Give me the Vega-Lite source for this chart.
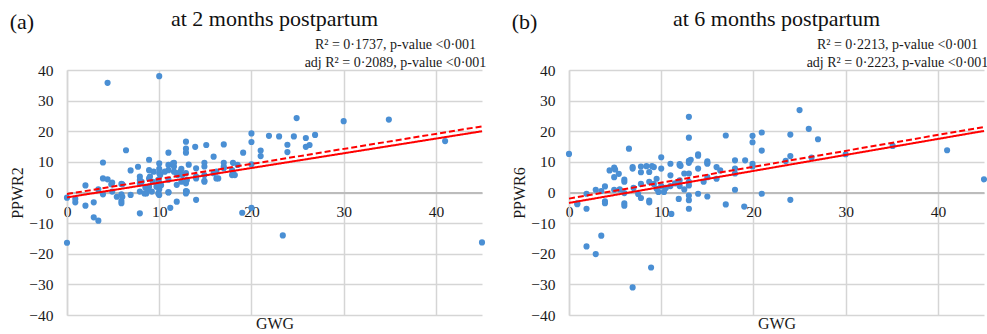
{
  "$schema": "https://vega.github.io/schema/vega-lite/v6.json",
  "padding": {"left": 9, "top": 8, "right": 0, "bottom": 0},
  "config": {
    "font": "Times New Roman, Liberation Serif, serif",
    "view": {"stroke": null},
    "axis": {
      "labelFont": "Times New Roman, Liberation Serif, serif", "titleFont": "Times New Roman, Liberation Serif, serif",
      "labelFontSize": 15.5, "titleFontSize": 16, "titleFontWeight": "normal",
      "labelColor": "#1a1a1a", "titleColor": "#1a1a1a", "labelOverlap": false,
      "gridColor": "#d5d5d5", "gridWidth": 1.5, "ticks": false, "tickSize": 0
    },
    "title": {"font": "Times New Roman, Liberation Serif, serif", "fontWeight": "normal", "fontSize": 22, "color": "#111111"}
  },
  "datasets": {
    "a": [
      {"GWG":4.4,"PPWR":35.8},{"GWG":10,"PPWR":38},{"GWG":6.4,"PPWR":13.8},{"GWG":3.9,"PPWR":9.8},{"GWG":8.9,"PPWR":10.7},{"GWG":11,"PPWR":13},{"GWG":12.9,"PPWR":16.6},{"GWG":12.9,"PPWR":14.3},{"GWG":12.9,"PPWR":13},{"GWG":13.9,"PPWR":14.9},{"GWG":15.1,"PPWR":15.5},{"GWG":15.9,"PPWR":11.7},{"GWG":17,"PPWR":15.7},{"GWG":19.1,"PPWR":13},{"GWG":20,"PPWR":19.3},{"GWG":20,"PPWR":16.5},{"GWG":21,"PPWR":13.7},{"GWG":21,"PPWR":11.9},{"GWG":21.9,"PPWR":18.5},{"GWG":23,"PPWR":18.3},{"GWG":23.9,"PPWR":15.6},{"GWG":23.9,"PPWR":13.2},{"GWG":24.6,"PPWR":18.3},{"GWG":24.9,"PPWR":24.3},{"GWG":25.9,"PPWR":17.8},{"GWG":25.9,"PPWR":14.9},{"GWG":26.3,"PPWR":15.5},{"GWG":26.9,"PPWR":18.8},{"GWG":30,"PPWR":23.3},{"GWG":34.9,"PPWR":23.8},{"GWG":41,"PPWR":16.8},{"GWG":23.4,"PPWR":-14},{"GWG":45,"PPWR":-16.3},{"GWG":0,"PPWR":-16.4},
      {"GWG":7.7,"PPWR":8.4},{"GWG":10,"PPWR":7.7},{"GWG":11,"PPWR":9},{"GWG":11.6,"PPWR":9.7},{"GWG":11.6,"PPWR":8.5},{"GWG":12.4,"PPWR":7.7},{"GWG":13.2,"PPWR":9.1},{"GWG":14,"PPWR":7.9},{"GWG":14.9,"PPWR":9.7},{"GWG":14.9,"PPWR":8.5},{"GWG":17,"PPWR":9.7},{"GWG":17,"PPWR":8.5},{"GWG":18,"PPWR":9.7},{"GWG":18.5,"PPWR":9},{"GWG":20,"PPWR":9.2},{"GWG":10,"PPWR":9.5},{"GWG":11.5,"PPWR":9.5},
      {"GWG":6.9,"PPWR":7.2},{"GWG":7.9,"PPWR":5.2},{"GWG":7.9,"PPWR":4.1},{"GWG":7.9,"PPWR":3},{"GWG":8.9,"PPWR":7.3},{"GWG":8.9,"PPWR":4.6},{"GWG":8.9,"PPWR":1.9},{"GWG":9.4,"PPWR":6.8},{"GWG":10,"PPWR":6.3},{"GWG":10,"PPWR":3.2},{"GWG":10,"PPWR":1},{"GWG":11,"PPWR":7.3},{"GWG":11,"PPWR":4.2},{"GWG":11.9,"PPWR":6.3},{"GWG":11.9,"PPWR":2.5},{"GWG":12.4,"PPWR":3.5},{"GWG":12.9,"PPWR":6.3},{"GWG":12.9,"PPWR":3},{"GWG":14,"PPWR":4.6},{"GWG":14.9,"PPWR":3.8},{"GWG":15.9,"PPWR":6.3},{"GWG":16.4,"PPWR":4.6},{"GWG":17,"PPWR":7.9},{"GWG":17.9,"PPWR":7.3},{"GWG":17.9,"PPWR":5.7},{"GWG":10.6,"PPWR":6.8},{"GWG":11.6,"PPWR":6.8},{"GWG":12.3,"PPWR":6.8},{"GWG":12.5,"PPWR":5.7},{"GWG":10.1,"PPWR":5.7},{"GWG":9.9,"PPWR":4.1},{"GWG":10.2,"PPWR":2.4},{"GWG":12,"PPWR":5.7},{"GWG":14,"PPWR":5.2},{"GWG":14.9,"PPWR":5.7},{"GWG":16.2,"PPWR":6.8},{"GWG":18,"PPWR":6.3},{"GWG":18.2,"PPWR":5.7},{"GWG":13,"PPWR":4.1},{"GWG":16.2,"PPWR":4.6},{"GWG":14.9,"PPWR":3.5},{"GWG":8.1,"PPWR":3.5},{"GWG":8.5,"PPWR":1.6},{"GWG":9,"PPWR":5.2},{"GWG":9.3,"PPWR":3.5},{"GWG":9.7,"PPWR":1.9},
      {"GWG":0,"PPWR":-1.7},{"GWG":0.9,"PPWR":-2.1},{"GWG":0.9,"PPWR":-3.2},{"GWG":2,"PPWR":2.3},{"GWG":2,"PPWR":-4.3},{"GWG":2.9,"PPWR":-3.2},{"GWG":2.9,"PPWR":-8.1},{"GWG":3.4,"PPWR":-9.2},{"GWG":3.4,"PPWR":1},{"GWG":3.9,"PPWR":4.6},{"GWG":3.9,"PPWR":-0.6},{"GWG":4.4,"PPWR":4.3},{"GWG":4.9,"PPWR":3.2},{"GWG":4.9,"PPWR":0.3},{"GWG":5.4,"PPWR":-1.4},{"GWG":5.9,"PPWR":2.8},{"GWG":5.9,"PPWR":-0.6},{"GWG":5.9,"PPWR":-2.8},{"GWG":5.9,"PPWR":-3.5},{"GWG":6.9,"PPWR":-0.8},{"GWG":7.9,"PPWR":0.3},{"GWG":7.9,"PPWR":-6.8},{"GWG":8.6,"PPWR":-0.3},{"GWG":9.2,"PPWR":0.3},{"GWG":10,"PPWR":-0.8},{"GWG":11,"PPWR":0},{"GWG":11.2,"PPWR":-5},{"GWG":11.9,"PPWR":-3},{"GWG":12.9,"PPWR":-0.3},{"GWG":12.9,"PPWR":0.5},{"GWG":14,"PPWR":-2.4},{"GWG":19,"PPWR":-6.6},{"GWG":20,"PPWR":-5},{"GWG":4.8,"PPWR":2.7},{"GWG":6,"PPWR":2.7},{"GWG":6,"PPWR":-1.4},{"GWG":8.8,"PPWR":0.8},{"GWG":8.4,"PPWR":-0.3},{"GWG":9.9,"PPWR":-0.3},{"GWG":11,"PPWR":0.1},{"GWG":13,"PPWR":0.3}
    ],
    "b": [
      {"GWG":0,"PPWR":12.6},{"GWG":6.5,"PPWR":14.3},{"GWG":13,"PPWR":24.7},{"GWG":13,"PPWR":17.9},{"GWG":14,"PPWR":12.5},{"GWG":14,"PPWR":12},{"GWG":10,"PPWR":11.5},{"GWG":11,"PPWR":9.4},{"GWG":12,"PPWR":9.3},{"GWG":12.1,"PPWR":8.7},{"GWG":13,"PPWR":10.3},{"GWG":13.2,"PPWR":10.7},{"GWG":15,"PPWR":10.2},{"GWG":15,"PPWR":9.7},{"GWG":17,"PPWR":18.6},{"GWG":18,"PPWR":10.5},{"GWG":19.1,"PPWR":10.5},{"GWG":19.9,"PPWR":18.5},{"GWG":19.9,"PPWR":16.4},{"GWG":20.9,"PPWR":19.6},{"GWG":20.9,"PPWR":13.7},{"GWG":19.9,"PPWR":9.4},{"GWG":23.5,"PPWR":10.3},{"GWG":24,"PPWR":18.9},{"GWG":24,"PPWR":11.9},{"GWG":25,"PPWR":26.9},{"GWG":26,"PPWR":20.8},{"GWG":26.3,"PPWR":11.4},{"GWG":27,"PPWR":17.4},{"GWG":30,"PPWR":12.5},{"GWG":35.1,"PPWR":15.2},{"GWG":41,"PPWR":13.8},{"GWG":9,"PPWR":8.6},{"GWG":8.4,"PPWR":8.6},{"GWG":6.9,"PPWR":8.3},{"GWG":5,"PPWR":7.5},
      {"GWG":0.9,"PPWR":-3.5},{"GWG":0.9,"PPWR":-3.8},{"GWG":1.9,"PPWR":-0.4},{"GWG":1.9,"PPWR":-5.3},{"GWG":1.9,"PPWR":-17.6},{"GWG":2.9,"PPWR":0.9},{"GWG":2.9,"PPWR":-20.1},{"GWG":3.5,"PPWR":-14.1},{"GWG":3.5,"PPWR":0.5},{"GWG":3.9,"PPWR":2},{"GWG":3.9,"PPWR":-2.9},{"GWG":3.9,"PPWR":-3.5},{"GWG":4.4,"PPWR":7.2},{"GWG":4.9,"PPWR":8.1},{"GWG":4.9,"PPWR":5},{"GWG":4.9,"PPWR":0.9},{"GWG":5.4,"PPWR":6.1},{"GWG":6,"PPWR":4.2},{"GWG":6,"PPWR":3.5},{"GWG":6,"PPWR":-0.2},{"GWG":6,"PPWR":-3.5},{"GWG":6,"PPWR":-4.3},{"GWG":6.9,"PPWR":7.8},{"GWG":6.9,"PPWR":-31},{"GWG":7.8,"PPWR":8.5},{"GWG":7.8,"PPWR":6.6},{"GWG":7.8,"PPWR":2.8},{"GWG":7.8,"PPWR":-1.8},{"GWG":8.7,"PPWR":6.7},{"GWG":8.7,"PPWR":3.5},{"GWG":8.7,"PPWR":-3.2},{"GWG":8.7,"PPWR":-2.6},{"GWG":8.9,"PPWR":-24.5},{"GWG":9.2,"PPWR":8.3},{"GWG":9.2,"PPWR":2.8},{"GWG":9.5,"PPWR":1.2},{"GWG":9.7,"PPWR":0.2},{"GWG":10,"PPWR":7.8},{"GWG":10,"PPWR":2.1},{"GWG":10.3,"PPWR":0.2},{"GWG":11,"PPWR":5.6},{"GWG":11,"PPWR":2.1},{"GWG":11.1,"PPWR":-7},{"GWG":12,"PPWR":8.9},{"GWG":11.9,"PPWR":-2.1},{"GWG":12,"PPWR":4},{"GWG":12,"PPWR":2.1},{"GWG":12.5,"PPWR":6.2},{"GWG":13,"PPWR":9.7},{"GWG":13,"PPWR":6.2},{"GWG":13,"PPWR":3.5},{"GWG":13,"PPWR":2.3},{"GWG":13,"PPWR":-1},{"GWG":13,"PPWR":-2.5},{"GWG":13,"PPWR":-5.3},{"GWG":14,"PPWR":7.8},{"GWG":14,"PPWR":-0.4},{"GWG":15,"PPWR":9.4},{"GWG":15,"PPWR":5},{"GWG":14.6,"PPWR":3.5},{"GWG":15,"PPWR":-1.3},{"GWG":16,"PPWR":8.3},{"GWG":16,"PPWR":4.5},{"GWG":16.4,"PPWR":7.2},{"GWG":17,"PPWR":-3.9},{"GWG":18,"PPWR":7.8},{"GWG":18,"PPWR":6.2},{"GWG":18,"PPWR":0.9},{"GWG":19,"PPWR":-4.6},{"GWG":19.9,"PPWR":8.5},{"GWG":20.9,"PPWR":-0.4},{"GWG":24,"PPWR":-2.4},{"GWG":45,"PPWR":4.3},
      {"GWG":10.5,"PPWR":1.5},{"GWG":11.5,"PPWR":3},{"GWG":12.5,"PPWR":1},{"GWG":9.5,"PPWR":4.5},{"GWG":7,"PPWR":1.5},{"GWG":5.5,"PPWR":1},{"GWG":7.5,"PPWR":-0.5}
    ],
    "la": [
      {"GWG":0,"PPWR":-1.6,"fit":"R²"},{"GWG":45,"PPWR":20,"fit":"R²"},
      {"GWG":0,"PPWR":-0.5,"fit":"adj R²"},{"GWG":45,"PPWR":21.6,"fit":"adj R²"}
    ],
    "lb": [
      {"GWG":0,"PPWR":-3.4,"fit":"R²"},{"GWG":45,"PPWR":20.1,"fit":"R²"},
      {"GWG":0,"PPWR":-2.0,"fit":"adj R²"},{"GWG":45,"PPWR":21.4,"fit":"adj R²"}
    ]
  },
  "spacing": 25,
  "hconcat": [
    {
      "title": {"text": "(a)", "anchor": "start", "frame": "bounds", "fontSize": 22, "dy": 30},
      "vconcat": [
        {
          "width": 415, "height": 245,
          "title": {"text": "at 2 months postpartum", "anchor": "middle", "frame": "group", "offset": 6},
          "resolve": {"axis": {"x": "independent"}},
          "layer": [
            {
              "data": {"name": "a"},
              "mark": {"type": "circle", "size": 38, "color": "#4a8fd4", "opacity": 1},
              "encoding": {
                "x": {"field": "GWG", "type": "quantitative", "scale": {"domain": [0, 45], "nice": false},
                  "axis": {"orient": "bottom", "offset": -122.5, "grid": false, "domain": true, "domainColor": "#bcbcbc", "domainWidth": 2,
                    "values": [0, 10, 20, 30, 40], "labelPadding": 12, "labelFlush": false, "title": "GWG", "titleY": 131, "titleBaseline": "middle"}},
                "y": {"field": "PPWR", "type": "quantitative", "scale": {"domain": [-40, 40]},
                  "axis": {"values": [-40, -30, -20, -10, 0, 10, 20, 30, 40], "grid": true, "domain": true, "domainColor": "#d5d5d5", "domainWidth": 1.5,
                    "labelPadding": 14, "labelFlush": false, "title": "PPWR2", "titlePadding": 3}}
              }
            },
            {
              "data": {"name": "la"},
              "mark": {"type": "line", "color": "#ff0000", "strokeWidth": 2},
              "encoding": {
                "x": {"field": "GWG", "type": "quantitative", "scale": {"domain": [0, 45], "nice": false},
                  "axis": {"orient": "top", "labels": false, "domain": false, "grid": true, "values": [0, 10, 20, 30, 40],
                    "title": ["R² = 0·1737, p-value <0·001", "adj R² = 0·2089, p-value <0·001"],
                    "titleFontSize": 14, "titleX": 328, "titleY": -22, "titleAlign": "center", "titleBaseline": "alphabetic", "titleLineHeight": 18}},
                "y": {"field": "PPWR", "type": "quantitative", "scale": {"domain": [-40, 40]},
                  "axis": {"values": [-40, -30, -20, -10, 0, 10, 20, 30, 40], "grid": true, "domain": true, "domainColor": "#d5d5d5", "domainWidth": 1.5,
                    "labelPadding": 14, "labelFlush": false, "title": "PPWR2", "titlePadding": 3}},
                "strokeDash": {"field": "fit", "type": "nominal", "scale": {"domain": ["R²", "adj R²"], "range": [[1, 0], [6, 3]]}, "legend": null}
              }
            }
          ]
        }
      ]
    },
    {
      "title": {"text": "(b)", "anchor": "start", "frame": "bounds", "fontSize": 22, "dy": 30},
      "vconcat": [
        {
          "width": 415, "height": 245,
          "title": {"text": "at 6 months postpartum", "anchor": "middle", "frame": "group", "offset": 6},
          "resolve": {"axis": {"x": "independent"}},
          "layer": [
            {
              "data": {"name": "b"},
              "mark": {"type": "circle", "size": 38, "color": "#4a8fd4", "opacity": 1},
              "encoding": {
                "x": {"field": "GWG", "type": "quantitative", "scale": {"domain": [0, 45], "nice": false},
                  "axis": {"orient": "bottom", "offset": -122.5, "grid": false, "domain": true, "domainColor": "#bcbcbc", "domainWidth": 2,
                    "values": [0, 10, 20, 30, 40], "labelPadding": 12, "labelFlush": false, "title": "GWG", "titleY": 131, "titleBaseline": "middle"}},
                "y": {"field": "PPWR", "type": "quantitative", "scale": {"domain": [-40, 40]},
                  "axis": {"values": [-40, -30, -20, -10, 0, 10, 20, 30, 40], "grid": true, "domain": true, "domainColor": "#d5d5d5", "domainWidth": 1.5,
                    "labelPadding": 14, "labelFlush": false, "title": "PPWR6", "titlePadding": 3}}
              }
            },
            {
              "data": {"name": "lb"},
              "mark": {"type": "line", "color": "#ff0000", "strokeWidth": 2},
              "encoding": {
                "x": {"field": "GWG", "type": "quantitative", "scale": {"domain": [0, 45], "nice": false},
                  "axis": {"orient": "top", "labels": false, "domain": false, "grid": true, "values": [0, 10, 20, 30, 40],
                    "title": ["R² = 0·2213, p-value <0·001", "adj R² = 0·2223, p-value <0·001"],
                    "titleFontSize": 14, "titleX": 328, "titleY": -22, "titleAlign": "center", "titleBaseline": "alphabetic", "titleLineHeight": 18}},
                "y": {"field": "PPWR", "type": "quantitative", "scale": {"domain": [-40, 40]},
                  "axis": {"values": [-40, -30, -20, -10, 0, 10, 20, 30, 40], "grid": true, "domain": true, "domainColor": "#d5d5d5", "domainWidth": 1.5,
                    "labelPadding": 14, "labelFlush": false, "title": "PPWR6", "titlePadding": 3}},
                "strokeDash": {"field": "fit", "type": "nominal", "scale": {"domain": ["R²", "adj R²"], "range": [[1, 0], [6, 3]]}, "legend": null}
              }
            }
          ]
        }
      ]
    }
  ]
}
